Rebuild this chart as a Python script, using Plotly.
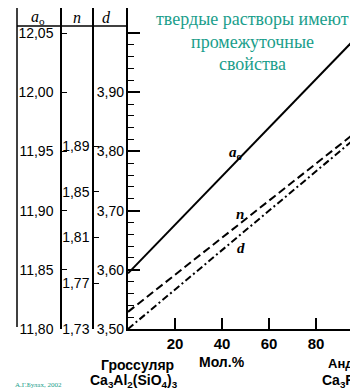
import plotly.graph_objects as go

# ---- data ----
mol_pct = [0, 100]
a0_vals = [11.847, 12.052]
n_vals = [1.745, 1.907]
d_vals = [3.500, 3.833]

a0_ticks = [11.80, 11.85, 11.90, 11.95, 12.00, 12.05]
n_ticks = [1.73, 1.77, 1.81, 1.85, 1.89]
d_ticks = [3.50, 3.60, 3.70, 3.80, 3.90]
x_ticks = [20, 40, 60, 80]

# page body has an 8px margin, so the figure is offset by 8px
OFF = 8
WIN_W, WIN_H = 358, 392
W, H = WIN_W - OFF, WIN_H - OFF
PX_LEFT = 128          # plot left edge (window pixels)
PX_TOP, PX_BOT = 8, 329
PX_PER_PCT = 2.35
A0_PX = 1184.0
N_PX = 1143.75
span = PX_BOT - PX_TOP


def px(x):
    return (x - OFF) / W


def py(y):
    return 1 - (y - OFF) / H


a0_range = [11.80, 11.80 + span / A0_PX]
n_range = [1.73, 1.73 + span / N_PX]
d_range = [3.50, 3.50 + 2 * (a0_range[1] - 11.80)]
x_range = [0, (WIN_W - PX_LEFT) / PX_PER_PCT]
ydom = [py(PX_BOT), py(PX_TOP)]

# minor tick positions on the plot's left axis: every 0.01 from 11.80 to 12.05
minor_vals = [round(11.80 + 0.01 * i, 2) for i in range(26)]

tickfont = dict(family="Liberation Sans, Arial", size=14, color="black")

fig = go.Figure()
fig.add_trace(go.Scatter(x=mol_pct, y=a0_vals, mode="lines", yaxis="y",
                         line=dict(color="black", width=2), showlegend=False, hoverinfo="skip"))
fig.add_trace(go.Scatter(x=mol_pct, y=n_vals, mode="lines", yaxis="y2",
                         line=dict(color="black", width=2, dash="8px,4px"), showlegend=False, hoverinfo="skip"))
fig.add_trace(go.Scatter(x=mol_pct, y=d_vals, mode="lines", yaxis="y3",
                         line=dict(color="black", width=2, dash="7px,3px,2px,3px"), showlegend=False, hoverinfo="skip"))
fig.add_trace(go.Scatter(x=[None], y=[None], yaxis="y4", showlegend=False, hoverinfo="skip"))

common_y = dict(showgrid=False, zeroline=False, fixedrange=True, automargin=False)

fig.update_layout(
    width=W, height=H,
    margin=dict(l=0, r=0, t=0, b=0),
    paper_bgcolor="white", plot_bgcolor="white",
    separators=",.",
    showlegend=False,
    xaxis=dict(domain=[px(PX_LEFT), 1.0], range=x_range, showgrid=False, zeroline=False,
               showline=True, linecolor="black", linewidth=1.5,
               ticks="inside", ticklen=11, tickwidth=1.5, tickcolor="black",
               tickvals=x_ticks, tickfont=dict(family="Liberation Sans, Arial", size=15,
                                                color="black", weight="bold"),
               automargin=False, anchor="y", fixedrange=True),
    # main a0 axis at plot edge: ticks only
    yaxis=dict(domain=ydom, range=a0_range, showline=True, linecolor="black", linewidth=1.5,
               ticks="inside", ticklen=12, tickwidth=1.5, tickcolor="black",
               tickvals=a0_ticks, showticklabels=False,
               minor=dict(ticks="inside", ticklen=6, tickwidth=1.2, tickcolor="black",
                          tickvals=minor_vals),
               **common_y),
    # n axis (column)
    yaxis2=dict(domain=ydom, range=n_range, overlaying="y", anchor="free", side="left",
                position=px(93), showline=True, linecolor="black", linewidth=1.5,
                ticks="inside", ticklen=5, tickwidth=1.2, tickcolor="black",
                tickvals=n_ticks, tickformat=".2f", tickfont=tickfont, ticklabelstandoff=0,
                **common_y),
    # d axis labels next to plot edge
    yaxis3=dict(domain=ydom, range=d_range, overlaying="y", anchor="free", side="left",
                position=px(PX_LEFT), showline=False, ticks="",
                tickvals=d_ticks, tickformat=".2f", tickfont=tickfont, ticklabelstandoff=4,
                **common_y),
    # a0 labels column
    yaxis4=dict(domain=ydom, range=a0_range, overlaying="y", anchor="free", side="left",
                position=px(61), showline=True, linecolor="black", linewidth=1.5,
                ticks="inside", ticklen=5, tickwidth=1.2, tickcolor="black",
                tickvals=a0_ticks, tickformat=".2f", tickfont=tickfont, ticklabelstandoff=4,
                **common_y),
)

# table outer line and header line
fig.add_shape(type="line", xref="paper", yref="paper", x0=px(17), x1=px(17),
              y0=py(PX_BOT - 2), y1=py(PX_TOP), line=dict(color="black", width=1.5))
fig.add_shape(type="line", xref="paper", yref="paper", x0=px(17), x1=px(PX_LEFT),
              y0=py(26), y1=py(26), line=dict(color="black", width=1.5))

hdr_font = dict(family="Liberation Serif, Times New Roman", size=16, color="black")
for txt, x, y in [("<i>a</i><sub>o</sub>", 38, 17), ("<i>n</i>", 77, 17), ("<i>d</i>", 106, 17)]:
    fig.add_annotation(text=txt, x=px(x), y=py(y), xref="paper", yref="paper",
                       showarrow=False, xanchor="center", yanchor="middle", font=hdr_font,
                       borderpad=0)

# line labels (data coordinates)
lab_font = dict(family="Liberation Serif, Times New Roman", size=15, color="black", weight="bold")
fig.add_annotation(text="<i>a</i><sub>o</sub>", x=45.8, y=11.949, xref="x", yref="y",
                   showarrow=False, font=lab_font)
fig.add_annotation(text="<i>n</i>", x=47.7, y=11.897, xref="x", yref="y",
                   showarrow=False, font=lab_font)
fig.add_annotation(text="<i>d</i>", x=48.1, y=11.868, xref="x", yref="y",
                   showarrow=False, font=lab_font)

bold = dict(family="Liberation Sans, Arial", size=14, color="black", weight="bold")
fig.add_annotation(text="Мол.%", x=px(222), y=py(362), xref="paper", yref="paper",
                   showarrow=False, xanchor="center", yanchor="middle", font=bold)
fig.add_annotation(text="Гроссуляр", x=px(137), y=py(365), xref="paper", yref="paper",
                   showarrow=False, xanchor="center", yanchor="middle", font=bold)
fig.add_annotation(text="Ca<sub>3</sub>Al<sub>2</sub>(SiO<sub>4</sub>)<sub>3</sub>",
                   x=px(134), y=py(381), xref="paper", yref="paper",
                   showarrow=False, xanchor="center", yanchor="middle", font=bold)
fig.add_annotation(text="Андрадит", x=px(326), y=py(363), xref="paper", yref="paper",
                   showarrow=False, xanchor="left", yanchor="middle",
                   font=dict(family="Liberation Sans, Arial", size=13, color="black", weight="bold"))
fig.add_annotation(text="Ca<sub>3</sub>Fe<sub>2</sub>(SiO<sub>4</sub>)<sub>3</sub>",
                   x=px(320), y=py(381), xref="paper", yref="paper",
                   showarrow=False, xanchor="left", yanchor="middle", font=bold)

teal = "#1a9e8b"
green_font = dict(family="Liberation Serif, Times New Roman", size=18, color=teal)
for txt, y in [("твердые растворы имеют", 19), ("промежуточные", 42), ("свойства", 64)]:
    fig.add_annotation(text=txt, x=px(252), y=py(y), xref="paper", yref="paper",
                       showarrow=False, xanchor="center", yanchor="middle", font=green_font)
fig.add_annotation(text="А.Г.Булах, 2002", x=px(38), y=py(385), xref="paper", yref="paper",
                   showarrow=False, xanchor="center", yanchor="middle",
                   font=dict(family="Liberation Serif", size=7, color=teal))

fig.write_html("out.html")
